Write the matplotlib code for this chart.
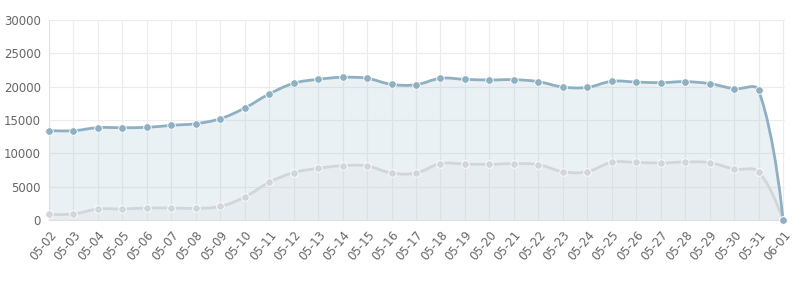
import numpy as np
import matplotlib
matplotlib.use("Agg")
import matplotlib.pyplot as plt
from matplotlib.path import Path
from matplotlib.patches import PathPatch

# data
dates = ["05-02", "05-03", "05-04", "05-05", "05-06", "05-07", "05-08", "05-09",
         "05-10", "05-11", "05-12", "05-13", "05-14", "05-15", "05-16", "05-17",
         "05-18", "05-19", "05-20", "05-21", "05-22", "05-23", "05-24", "05-25",
         "05-26", "05-27", "05-28", "05-29", "05-30", "05-31", "06-01"]
total = [13400, 13400, 13850, 13850, 13900, 14200, 14450, 15200,
         16800, 18900, 20500, 21100, 21400, 21250, 20350, 20300,
         21250, 21100, 21000, 21050, 20750, 19950, 19900, 20800,
         20700, 20600, 20750, 20450, 19700, 19450, 0]
part = [850, 900, 1650, 1650, 1800, 1800, 1750, 2050,
        3450, 5650, 7100, 7750, 8150, 8100, 7050, 7050,
        8450, 8400, 8350, 8450, 8300, 7250, 7250, 8650,
        8650, 8550, 8700, 8600, 7650, 7200, 0]
y_ticks = [0, 5000, 10000, 15000, 20000, 25000, 30000]

W, H = 799, 284
L, R, B, T = 49, 785, 220, 20
YMAX = 30000
XMAX = 30.08


def bezier_path(xs, ys, tension=0.4):
    # chart.js v1 style spline, distances measured in pixels
    sx = (R - L) / XMAX
    sy = (B - T) / YMAX
    px = np.array(xs, float) * sx
    py = np.array(ys, float) * sy
    n = len(px)
    inner = np.zeros((n, 2))
    outer = np.zeros((n, 2))
    for i in range(n):
        p0 = max(i - 1, 0)
        p2 = min(i + 1, n - 1)
        t = tension if 0 < i < n - 1 else 0
        d01 = np.hypot(px[i] - px[p0], py[i] - py[p0])
        d12 = np.hypot(px[p2] - px[i], py[p2] - py[i])
        tot = d01 + d12
        fa = t * d01 / tot if tot else 0
        fb = t * d12 / tot if tot else 0
        dx, dy = px[p2] - px[p0], py[p2] - py[p0]
        inner[i] = (px[i] - fa * dx, py[i] - fa * dy)
        outer[i] = (px[i] + fb * dx, py[i] + fb * dy)
    inner[:, 1] = np.clip(inner[:, 1], 0, YMAX * sy)
    outer[:, 1] = np.clip(outer[:, 1], 0, YMAX * sy)
    verts = [(px[0] / sx, py[0] / sy)]
    codes = [Path.MOVETO]
    for i in range(1, n):
        verts += [(outer[i - 1][0] / sx, outer[i - 1][1] / sy),
                  (inner[i][0] / sx, inner[i][1] / sy),
                  (px[i] / sx, py[i] / sy)]
        codes += [Path.CURVE4] * 3
    return verts, codes


fig = plt.figure(figsize=(W / 100, H / 100), dpi=100)
ax = fig.add_axes([L / W, (H - B) / H, (R - L) / W, (B - T) / H])

x = np.arange(len(dates))
series = [
    (part, (220 / 255, 220 / 255, 220 / 255), "#d3d6d8"),
    (total, (151 / 255, 187 / 255, 205 / 255), "#8fb0c2"),
]
for vals, fill, line in series[::-1]:
    verts, codes = bezier_path(x, vals)
    fv = verts + [(x[-1], 0), (x[0], 0), verts[0]]
    fc = codes + [Path.LINETO, Path.LINETO, Path.CLOSEPOLY]
    ax.add_patch(PathPatch(Path(fv, fc), facecolor=fill + (0.2,), edgecolor="none", zorder=1))
for vals, fill, line in series:
    verts, codes = bezier_path(x, vals)
    ax.add_patch(PathPatch(Path(verts, codes), facecolor="none", edgecolor=line, lw=2, zorder=3))
    ax.scatter(x, vals, s=30, color=line, edgecolors="white", linewidths=0.6, zorder=4, clip_on=False)

ax.set_xlim(0, XMAX)
ax.set_ylim(0, YMAX)
ax.set_yticks(y_ticks)
ax.set_xticks(x)
ax.set_xticklabels(dates, rotation=50, ha="right", rotation_mode="anchor")
ax.tick_params(axis="both", length=0, labelsize=8.5, colors="#666666")
ax.tick_params(axis="x", pad=6)
ax.tick_params(axis="y", pad=6)
ax.grid(True, color="#ececec", lw=0.8, zorder=0)
ax.set_axisbelow(True)
for s in ["top", "right"]:
    ax.spines[s].set_visible(False)
for s in ["left", "bottom"]:
    ax.spines[s].set_color("#e0e0e0")
    ax.spines[s].set_linewidth(0.8)

fig.savefig("out.png", dpi=100)
